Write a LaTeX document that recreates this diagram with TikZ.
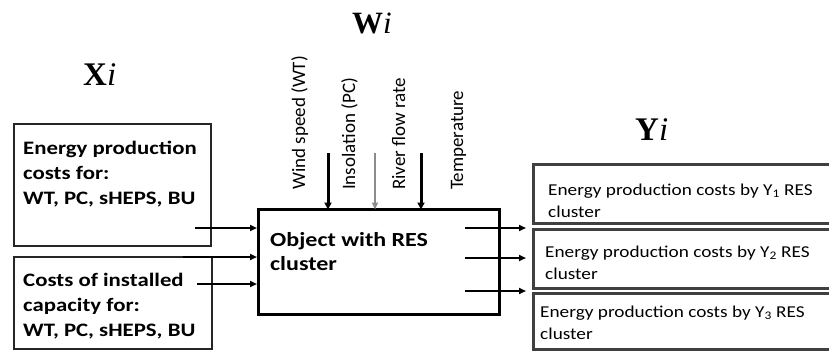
\documentclass[tikz,border=0pt]{standalone}
\usepackage{fontspec}
\setmainfont{Liberation Serif}
\newfontfamily\lfont[FakeStretch=1.2]{Carlito}
\newfontfamily\rfont[FakeStretch=1.16]{Carlito}
\newfontfamily\vfont{Carlito}
\usetikzlibrary{arrows.meta}
\begin{document}
\begin{tikzpicture}[x=1pt,y=-1pt,
  lbox/.style={draw=black!85, line width=2pt, anchor=north west, inner sep=0pt},
  cbox/.style={draw=black, line width=3pt, anchor=north west, inner sep=0pt},
  rbox/.style={draw=black!75, line width=2.5pt, anchor=north west, inner sep=0pt},
  ltext/.style={anchor=base west, inner sep=0pt, align=left, font=\lfont\bfseries\fontsize{19}{25}\selectfont},
  ctext/.style={anchor=base west, inner sep=0pt, align=left, font=\lfont\bfseries\fontsize{20}{23.5}\selectfont},
  rtext/.style={anchor=base west, inner sep=0pt, align=left, font=\rfont\fontsize{16.6}{22}\selectfont},
  vlab/.style={anchor=base west, inner sep=0pt, rotate=90, font=\vfont\fontsize{19}{19}\selectfont},
  head/.style={anchor=base west, inner sep=0pt},
  arr/.style={line width=2pt, -{Triangle[length=7pt,width=6pt]}},
  darr/.style={line width=3pt, -{Triangle[length=7pt,width=7pt]}},
  garr/.style={line width=2pt, black!45, -{Triangle[length=7pt,width=6pt]}}
]
\useasboundingbox (0,0) rectangle (829,351);
\fill[white] (0,0) rectangle (829,351);

% headings
\node[head] (xl) at (83,85) {\fontsize{33}{33}\selectfont\textbf{X}\textit{i}};
\node[head] (wl) at (352,33) {\fontsize{31}{31}\selectfont\textbf{W}\textit{i}};
\node[head] (yl) at (635,140) {\fontsize{33}{33}\selectfont\textbf{Y}\textit{i}};

% left boxes
\node[lbox, minimum width=197pt, minimum height=122pt] (xb1) at (13,123) {};
\node[lbox, minimum width=198pt, minimum height=92pt] (xb2) at (13,256) {};
\node[ltext] (xt1) at (23,204) {Energy production\\costs for:\\WT, PC, sHEPS, BU};
\node[ltext] (xt2) at (23,336) {Costs of installed\\capacity for:\\WT, PC, sHEPS, BU};

% centre box
\node[cbox, minimum width=241pt, minimum height=105pt] (obj) at (257,208) {};
\node[ctext] (ot) at (270,270) {Object with RES\\cluster};

% right boxes
\node[rbox, minimum width=310pt, minimum height=59pt] (yb1) at (532,163) {};
\node[rbox, minimum width=310pt, minimum height=59pt] (yb2) at (532,228) {};
\node[rbox, minimum width=310pt, minimum height=56pt] (yb3) at (532,292) {};
\node[rtext] (yt1) at (548,217) {Energy production costs by Y\textsubscript{1} RES\\cluster};
\node[rtext] (yt2) at (545,279) {Energy production costs by Y\textsubscript{2} RES\\cluster};
\node[rtext] (yt3) at (540,339) {Energy production costs by Y\textsubscript{3} RES\\cluster};

% vertical labels
\node[vlab] (w1) at (305,190) {Wind speed (WT)};
\node[vlab] (w2) at (355,190) {Insolation (PC)};
\node[vlab] (w3) at (405,190) {River flow rate};
\node[vlab] (w4) at (463,190) {Temperature};

% left arrows
\coordinate (l1) at (195,228);
\coordinate (l2) at (183,257);
\coordinate (l3) at (197,284);
\draw[arr] (l1) -- (l1 -| obj.west);
\draw[arr] (l2) -- (l2 -| obj.west);
\draw[arr] (l3) -- (l3 -| obj.west);

% down arrows
\coordinate (d1) at (328,153);
\coordinate (d2) at (375,153);
\coordinate (d3) at (421,153);
\draw[darr] (d1) -- ([yshift=-1.5pt]d1 |- obj.north);
\draw[garr] (d2) -- ([yshift=-1.5pt]d2 |- obj.north);
\draw[darr] (d3) -- ([yshift=-1.5pt]d3 |- obj.north);

% right arrows
\coordinate (r1) at (465,228);
\coordinate (r2) at (465,258);
\coordinate (r3) at (465,291);
\draw[arr] (r1) -- ([xshift=-6pt]r1 -| yb1.west);
\draw[arr] (r2) -- ([xshift=-6pt]r2 -| yb2.west);
\draw[arr] (r3) -- ([xshift=-6pt]r3 -| yb3.west);
\end{tikzpicture}
\end{document}
